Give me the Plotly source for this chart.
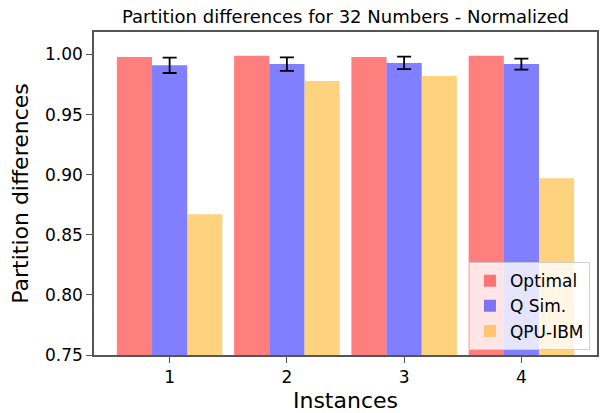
import plotly.graph_objects as go

instances = [1, 2, 3, 4]
tick_labels = ["1", "2", "3", "4"]
optimal = [0.998, 0.999, 0.998, 0.999]
qsim = [0.991, 0.992, 0.993, 0.992]
qsim_err = [0.0064, 0.0056, 0.0052, 0.0046]
qpu = [0.867, 0.978, 0.982, 0.897]
y_ticks = [0.75, 0.80, 0.85, 0.90, 0.95, 1.00]

FONT = "DejaVu Sans"
AXC = "#555555"

fig = go.Figure()
fig.add_trace(go.Bar(x=instances, y=optimal, name="Optimal",
                     marker=dict(color="rgba(255,0,0,0.5)", line=dict(width=0))))
fig.add_trace(go.Bar(x=instances, y=qsim, name="Q Sim.",
                     marker=dict(color="rgba(0,0,255,0.5)", line=dict(width=0)),
                     error_y=dict(type="data", array=qsim_err, visible=True,
                                  color="black", thickness=1.8, width=7)))
fig.add_trace(go.Bar(x=instances, y=qpu, name="QPU-IBM",
                     marker=dict(color="rgba(255,165,0,0.5)", line=dict(width=0))))

fig.update_layout(
    width=601, height=413,
    margin=dict(l=94, r=2, t=32, b=52),
    barmode="group", bargap=0.1, bargroupgap=0,
    plot_bgcolor="white", paper_bgcolor="white",
    font=dict(family=FONT, color="black", size=17),
    title=dict(text="Partition differences for 32 Numbers - Normalized",
               font=dict(family=FONT, size=18, color="black"),
               x=0.5, xref="paper", xanchor="center",
               y=1 - 17 / 413, yref="container", yanchor="middle"),
    xaxis=dict(range=[0.355, 4.645], tickvals=instances, ticktext=tick_labels,
               showline=True, linecolor=AXC, linewidth=1.5, mirror=True,
               ticks="outside", ticklen=6, tickcolor=AXC, tickwidth=1.3,
               showgrid=False, zeroline=False,
               tickfont=dict(size=17),
               title=dict(text="Instances", font=dict(size=22), standoff=8)),
    yaxis=dict(range=[0.75, 1.0187], tickvals=y_ticks,
               tickformat=".2f",
               showline=True, linecolor=AXC, linewidth=1.5, mirror=True,
               ticks="outside", ticklen=6, tickcolor=AXC, tickwidth=1.3,
               showgrid=False, zeroline=False,
               tickfont=dict(size=17),
               title=dict(text="Partition differences", font=dict(size=22), standoff=10)),
    legend=dict(x=0.986, y=0.015, xanchor="right", yanchor="bottom",
                bgcolor="rgba(255,255,255,0.8)", bordercolor="rgba(204,204,204,0.9)",
                borderwidth=1, font=dict(size=17), tracegroupgap=0,
                itemwidth=30),
)

fig.write_html("out.html")
